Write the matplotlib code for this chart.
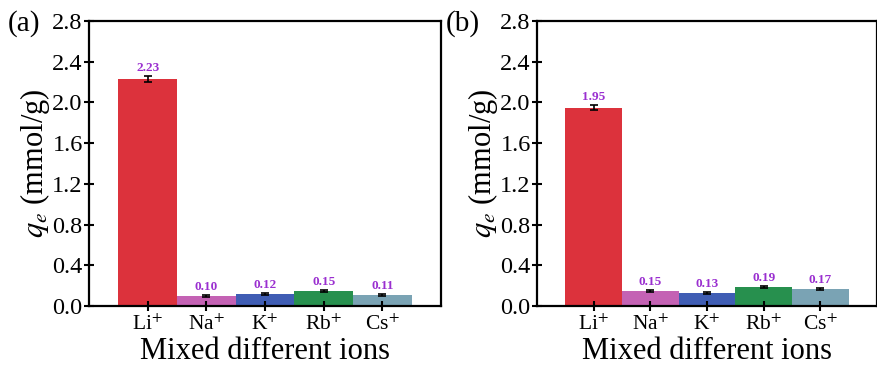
import numpy as np
import matplotlib
matplotlib.use('Agg')
from matplotlib import pyplot as plt

plt.rcParams['font.family'] = ['Liberation Serif', 'DejaVu Serif']
plt.rcParams['mathtext.fontset'] = 'stix'

ions = ['Li$^{+}$', 'Na$^{+}$', 'K$^{+}$', 'Rb$^{+}$', 'Cs$^{+}$']
qe_a = [2.23, 0.10, 0.12, 0.15, 0.11]
err_a = [0.03, 0.01, 0.01, 0.01, 0.01]
qe_b = [1.95, 0.15, 0.13, 0.19, 0.17]
err_b = [0.02, 0.01, 0.01, 0.01, 0.01]
yticks = [0.0, 0.4, 0.8, 1.2, 1.6, 2.0, 2.4, 2.8]
colors = ['#dc323c', '#c462b4', '#3f5db4', '#27904e', '#7aa3b4']

fig = plt.figure(figsize=(8.78, 3.67), dpi=100)
W, H = 878, 367
boxes = [(89, 441), (537, 877)]
panels = [('(a)', qe_a, err_a, 8), ('(b)', qe_b, err_b, 446)]

for (x0, x1), (tag, vals, errs, tx) in zip(boxes, panels):
    ax = fig.add_axes([x0 / W, 1 - 306 / H, (x1 - x0) / W, (306 - 21) / H])
    x = np.arange(len(ions))
    ax.bar(x, vals, width=1.0, color=colors, yerr=errs, capsize=3,
           error_kw=dict(elinewidth=1.2, capthick=1.2, ecolor='black'))
    for xi, v, e in zip(x, vals, errs):
        ax.text(xi, v + e + 0.02, f'{v:.2f}', ha='center', va='bottom',
                color='#9a2fd0', fontsize=9.5, fontweight='bold')
    ax.set_xlim(-1.0, 5.0)
    ax.set_ylim(0, 2.8)
    ax.set_yticks(yticks)
    ax.set_yticklabels([f'{t:.1f}' for t in yticks])
    ax.set_xticks(x)
    ax.set_xticklabels(ions)
    ax.tick_params(axis='both', direction='inout', length=7, width=1.5)
    ax.tick_params(axis='y', labelsize=17.5, pad=1)
    ax.tick_params(axis='x', labelsize=15.5, pad=3)
    for s in ax.spines.values():
        s.set_linewidth(1.6)
    ax.set_xlabel('Mixed different ions', fontsize=22, labelpad=1)
    ax.set_ylabel('$q_e$ (mmol/g)', fontsize=22, labelpad=0)
    fig.text(tx / W, 1 - 24 / H, tag, fontsize=21, ha='left', va='center')

plt.savefig('out.png', dpi=100)
